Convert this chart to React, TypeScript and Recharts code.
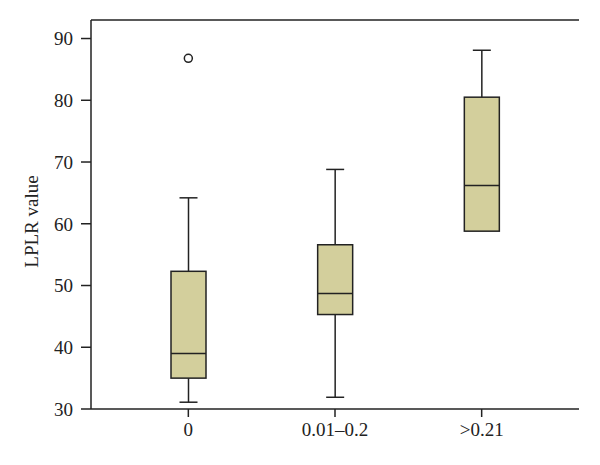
import React from "react";
import { ComposedChart, Bar, Line, XAxis, YAxis } from "recharts";

const groups = ["0", "0.01–0.2", ">0.21"];
const mins = [31.1, 31.9, 58.8];
const q1s = [35.0, 45.3, 58.8];
const medians = [39.0, 48.7, 66.2];
const q3s = [52.3, 56.6, 80.5];
const maxs = [64.2, 68.8, 88.1];
const outliers: (number | null)[] = [86.8, null, null];
const yTicks = [30, 40, 50, 60, 70, 80, 90];

const data = groups.map((name, i) => ({
  name,
  min: mins[i],
  q1: q1s[i],
  median: medians[i],
  q3: q3s[i],
  max: maxs[i],
  outlier: outliers[i],
}));

const FONT = "'Liberation Serif', 'Times New Roman', serif";
const INK = "#222";
const BOX_FILL = "#d3cf9c";

const BoxShape = (props: any) => {
  const { x, y, width, height, payload } = props;
  if (x == null || y == null || !payload) return null;
  const span = payload.q3 - payload.q1;
  const k = span > 0 ? height / span : 0;
  const yOf = (v: number) => y + (payload.q3 - v) * k;
  const cx = x + width / 2;
  const cap = 9;
  return (
    <g>
      <line x1={cx} x2={cx} y1={yOf(payload.max)} y2={y} stroke={INK} strokeWidth={1.5} />
      <line x1={cx - cap} x2={cx + cap} y1={yOf(payload.max)} y2={yOf(payload.max)} stroke={INK} strokeWidth={1.5} />
      {payload.min < payload.q1 && (
        <>
          <line x1={cx} x2={cx} y1={y + height} y2={yOf(payload.min)} stroke={INK} strokeWidth={1.5} />
          <line x1={cx - cap} x2={cx + cap} y1={yOf(payload.min)} y2={yOf(payload.min)} stroke={INK} strokeWidth={1.5} />
        </>
      )}
      <rect x={x} y={y} width={width} height={height} fill={BOX_FILL} stroke={INK} strokeWidth={1.5} />
      <line x1={x} x2={x + width} y1={yOf(payload.median)} y2={yOf(payload.median)} stroke={INK} strokeWidth={1.5} />
    </g>
  );
};

const YLabel = (props: any) => {
  const vb = props.viewBox || {};
  const lx = vb.x;
  const ly = vb.y + vb.height / 2 + 7;
  return (
    <text
      x={lx}
      y={ly}
      transform={`rotate(-90, ${lx}, ${ly})`}
      textAnchor="middle"
      dominantBaseline="central"
      fontFamily={FONT}
      fontSize={19}
      fill={INK}
    >
      LPLR value
    </text>
  );
};

export default function App() {
  return (
    <div style={{ position: "absolute", left: 0, top: 0, background: "#fff" }}>
      <ComposedChart
        width={600}
        height={465}
        data={data}
        margin={{ top: 19, right: 21, bottom: 16, left: 31 }}
      >
        <XAxis
          dataKey="name"
          type="category"
          padding={{ left: 24, right: 24 }}
          height={40}
          tickSize={8}
          tickMargin={6}
          stroke={INK}
          strokeWidth={1.5}
          tick={{ fontFamily: FONT, fontSize: 19, fill: INK }}
        />
        <XAxis
          xAxisId="top"
          dataKey="name"
          orientation="top"
          height={1}
          tick={false}
          tickLine={false}
          stroke={INK}
          strokeWidth={1.5}
        />
        <YAxis
          domain={[30, 93]}
          ticks={yTicks}
          allowDataOverflow
          width={60}
          tickSize={10}
          tickMargin={8}
          stroke={INK}
          strokeWidth={1.5}
          tick={{ fontFamily: FONT, fontSize: 19, fill: INK }}
          label={<YLabel />}
        />
        <YAxis
          yAxisId="right"
          orientation="right"
          domain={[30, 93]}
          width={0}
          tick={false}
          tickLine={false}
          stroke={INK}
          strokeWidth={1.5}
        />
        <Bar
          dataKey={(d: any) => [d.q1, d.q3]}
          barSize={35}
          shape={<BoxShape />}
          isAnimationActive={false}
        />
        <Line
          dataKey="outlier"
          stroke="none"
          connectNulls={false}
          dot={{ r: 4, fill: "#fff", stroke: INK, strokeWidth: 1.5 }}
          activeDot={false}
          isAnimationActive={false}
        />
      </ComposedChart>
    </div>
  );
}
